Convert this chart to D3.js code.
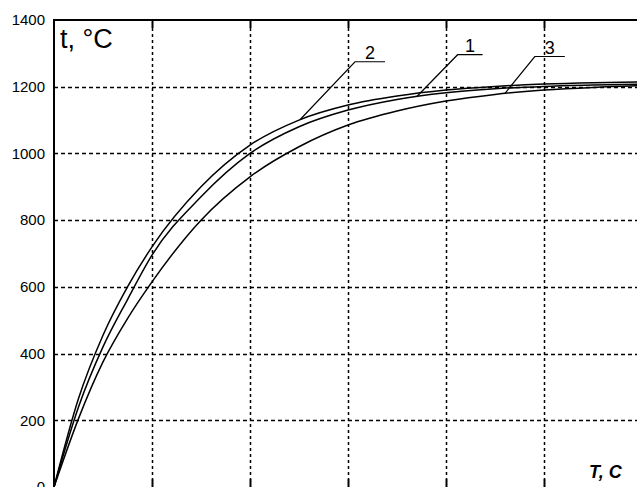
<!DOCTYPE html>
<html lang="en">

<head>
  <meta charset="UTF-8">
  <title>Heating curves</title>
  <script src="https://d3js.org/d3.v7.min.js"></script>
  <style>
    body { margin: 0; background: #fff; }
    svg { display: block; font-family: "Liberation Sans", Arial, sans-serif; }
  </style>
</head>

<body>
  <div id="chart"></div>

  <script>

    // time, in grid units
    const times = [0, 0.25, 0.5, 0.75, 1, 1.5, 2, 2.5, 3, 3.5, 4, 4.5, 5, 5.5, 6];

    // temperature, °C
    const curve1 = [0, 240, 420, 562, 695, 870, 1000, 1080, 1130, 1162, 1182, 1194, 1201, 1205, 1208];
    const curve2 = [0, 265, 455, 600, 720, 900, 1025, 1100, 1145, 1172, 1190, 1201, 1208, 1212, 1214];
    const curve3 = [0, 205, 375, 505, 615, 800, 930, 1020, 1085, 1127, 1157, 1177, 1190, 1198, 1203];

    const curveNames = ['1', '2', '3'];
    const labelTimes = [3.7, 2.51, 4.6];   // where each leader touches its curve

    const yTicks = [0, 200, 400, 600, 800, 1000, 1200, 1400];
    const xTicks = [1, 2, 3, 4, 5];

    const width = 637;
    const height = 487;

    const svg = d3.select('#chart').append('svg')
      .attr('width', width)
      .attr('height', height);

    const scaleX = d3.scaleLinear().domain([0, 6]).range([54, 642]);
    const scaleY = d3.scaleLinear().domain([0, 1400]).range([487, 20]);

    // grid
    svg.append('g')
      .selectAll('line')
      .data(yTicks.filter(d => d > 0 && d < 1400))
      .enter()
      .append('line')
      .attr('x1', scaleX(0))
      .attr('x2', width)
      .attr('y1', d => Math.round(scaleY(d)) + 0.5)
      .attr('y2', d => Math.round(scaleY(d)) + 0.5)
      .attr('stroke', '#000')
      .attr('stroke-width', 1.5)
      .attr('stroke-dasharray', '4,3');

    svg.append('g')
      .selectAll('line')
      .data(xTicks)
      .enter()
      .append('line')
      .attr('x1', d => Math.round(scaleX(d)) + 0.5)
      .attr('x2', d => Math.round(scaleX(d)) + 0.5)
      .attr('y1', scaleY(1400) + 8)
      .attr('y2', scaleY(0) - 8)
      .attr('stroke', '#000')
      .attr('stroke-width', 1.5)
      .attr('stroke-dasharray', '3,3');

    // solid ticks on top and bottom frame
    ['top', 'bottom'].forEach(side => {
      svg.append('g')
        .selectAll('line')
        .data(xTicks)
        .enter()
        .append('line')
        .attr('x1', d => Math.round(scaleX(d)) + 0.5)
        .attr('x2', d => Math.round(scaleX(d)) + 0.5)
        .attr('y1', side === 'top' ? scaleY(1400) : scaleY(0))
        .attr('y2', side === 'top' ? scaleY(1400) + 8 : scaleY(0) - 8)
        .attr('stroke', '#000')
        .attr('stroke-width', 2);
    });

    // frame
    svg.append('path')
      .attr('d', `M${width},${scaleY(1400)}H${scaleX(0)}V${height}`)
      .attr('fill', 'none')
      .attr('stroke', '#000')
      .attr('stroke-width', 2);

    // y tick labels
    const yAxis = svg.append('g')
      .attr('transform', `translate(${scaleX(0)},0)`)
      .call(d3.axisLeft(scaleY).tickValues(yTicks).tickFormat(d3.format('d')).tickSize(0).tickPadding(9));
    yAxis.select('.domain').remove();
    yAxis.selectAll('text')
      .attr('fill', '#000')
      .style('font-family', '"Liberation Sans", Arial, sans-serif')
      .style('font-size', '15px');

    // curves
    const series = [curve1, curve2, curve3];
    const line = d3.line()
      .x((d, i) => scaleX(times[i]))
      .y(d => scaleY(d))
      .curve(d3.curveMonotoneX);

    svg.append('g')
      .selectAll('path')
      .data(series)
      .enter()
      .append('path')
      .attr('d', d => line(d))
      .attr('fill', 'none')
      .attr('stroke', '#000')
      .attr('stroke-width', 1.5);

    // curve labels with leaders
    const leader = [
      { dx: 41, dy: -42, len: 25 },
      { dx: 55, dy: -58, len: 30 },
      { dx: 30, dy: -37, len: 30 }
    ];

    const interp = (s, t) => {
      const i = d3.bisectLeft(times, t);
      if (i <= 0) return s[0];
      const t0 = times[i - 1], t1 = times[i];
      return s[i - 1] + (s[i] - s[i - 1]) * (t - t0) / (t1 - t0);
    };

    curveNames.forEach((name, k) => {
      const px = scaleX(labelTimes[k]);
      const py = scaleY(interp(series[k], labelTimes[k]));
      const l = leader[k];
      const g = svg.append('g');
      g.append('path')
        .attr('d', `M${px},${py}L${px + l.dx},${py + l.dy}h${l.len}`)
        .attr('fill', 'none')
        .attr('stroke', '#000')
        .attr('stroke-width', 1.2);
      g.append('text')
        .attr('x', px + l.dx + l.len / 2)
        .attr('y', py + l.dy - 3)
        .attr('text-anchor', 'middle')
        .style('font-size', '18px')
        .text(name);
    });

    // axis titles
    svg.append('text')
      .attr('x', 60)
      .attr('y', 48)
      .style('font-size', '27px')
      .text('t, °C');

    svg.append('text')
      .attr('x', 589)
      .attr('y', 478)
      .style('font-size', '18px')
      .style('font-style', 'italic')
      .style('font-weight', 'bold')
      .text('T, C');

  </script>
</body>

</html>
